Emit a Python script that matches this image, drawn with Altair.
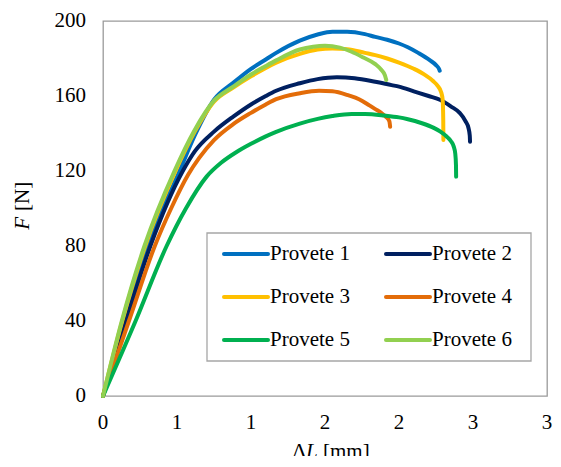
import altair as alt
import pandas as pd

FONT = "Liberation Serif"

series_names = ["Provete 1", "Provete 2", "Provete 3", "Provete 4", "Provete 5", "Provete 6"]
series_colors = ["#0070C0", "#002060", "#FFC000", "#E36C09", "#00B050", "#92D050"]

# Provete 1 (ΔL in mm, F in N)
p1_dl = [0, 0.145, 0.30, 0.517, 0.62, 0.75, 0.88, 1.0, 1.10, 1.17, 1.33, 1.45, 1.55, 1.65,
         1.77, 1.84, 1.92, 2.0, 2.06, 2.13, 2.21, 2.25, 2.27, 2.275]
p1_f = [0, 40, 80, 120, 139, 158, 167, 174.5, 179.5, 183, 189.5, 192.8, 194.3, 194.3,
        193, 191.5, 190, 188, 186, 183, 179, 176.5, 174.5, 173.5]

# Provete 2
p2_dl = [0, 0.155, 0.32, 0.539, 0.62, 0.75, 0.88, 1.0, 1.10, 1.17, 1.33, 1.45, 1.58, 1.70,
         1.84, 1.95, 2.0, 2.10, 2.20, 2.28, 2.35, 2.41, 2.45, 2.47, 2.478, 2.48]
p2_f = [0, 40, 80, 120, 130.5, 141, 149, 155.5, 160, 162.8, 166.8, 169, 170, 169.5,
        167.6, 165.8, 165, 162.5, 160, 157.9, 154.5, 151, 146.5, 142.8, 139, 135.6]

# Provete 3
p3_dl = [0, 0.13, 0.285, 0.49, 0.62, 0.75, 0.88, 1.0, 1.10, 1.17, 1.33, 1.45, 1.55, 1.65,
         1.77, 1.84, 1.92, 2.0, 2.10, 2.17, 2.23, 2.26, 2.285, 2.295, 2.299, 2.30]
p3_f = [0, 40, 80, 120, 141, 157, 164.5, 170.5, 175, 177.8, 182.5, 184.8, 185.4, 185,
        183, 181.8, 180, 177.8, 174.5, 171.5, 168, 165.5, 162, 158, 147, 136.5]

# Provete 4
p4_dl = [0, 0.175, 0.35, 0.46, 0.575, 0.65, 0.75, 0.88, 1.0, 1.10, 1.17, 1.33, 1.46, 1.55, 1.66,
         1.73, 1.80, 1.84, 1.88, 1.91, 1.935, 1.94]
p4_f = [0, 40, 80, 100, 118, 127, 136.5, 145, 151, 155.5, 158.3, 161.5, 162.8, 162.5, 160.3,
        158.3, 155, 153, 151, 149, 146.5, 143.6]

# Provete 5
p5_dl = [0, 0.22, 0.43, 0.56, 0.70, 0.80, 0.90, 1.0, 1.10, 1.17, 1.33, 1.45,
         1.55, 1.68, 1.77, 1.90, 2.0, 2.06, 2.15, 2.235, 2.28, 2.32, 2.35, 2.37, 2.38, 2.385, 2.386]
p5_f = [0, 40, 80, 100, 117, 124.5, 130, 134.5, 138.5, 140.9, 145.3, 147.8,
        149.3, 150.4, 150.4, 149.6, 148.6, 147.6, 145.6, 143, 141, 138.5, 136, 133, 129.4, 123, 117]

# Provete 6
p6_dl = [0, 0.127, 0.28, 0.483, 0.617, 0.75, 0.88, 1.0, 1.10, 1.17, 1.33, 1.42, 1.50, 1.60,
         1.68, 1.76, 1.84, 1.88, 1.905, 1.914]
p6_f = [0, 40, 80, 120, 141.5, 157.5, 165, 171.5, 176, 179, 184.8, 186.3, 186.8, 185.8,
        183.6, 180.5, 177, 174, 171, 168.5]

x_tick_values = [0, 0.5, 1, 1.5, 2, 2.5, 3]
x_tick_labels = ["0", "1", "1", "2", "2", "3", "3"]
y_tick_values = [0, 40, 80, 120, 160, 200]
y_tick_labels = ["0", "40", "80", "120", "160", "200"]

all_dl = [p1_dl, p2_dl, p3_dl, p4_dl, p5_dl, p6_dl]
all_f = [p1_f, p2_f, p3_f, p4_f, p5_f, p6_f]

rows = []
for name, xs, fs in zip(series_names, all_dl, all_f):
    for i, (a, b) in enumerate(zip(xs, fs)):
        rows.append({"serie": name, "dl": a, "f": b, "i": i})
df = pd.DataFrame(rows)

GRID = "#9a9a9a"
XS = alt.Scale(domain=[0, 3], nice=False, zero=False)
YS = alt.Scale(domain=[0, 200], nice=False)
CS = alt.Scale(domain=series_names, range=series_colors)

lines = alt.Chart(df).mark_line(
    strokeWidth=4, interpolate="monotone", strokeCap="round", strokeJoin="round"
).encode(
    x=alt.X("dl:Q", scale=XS, axis=alt.Axis(values=x_tick_values, labels=False, title=None)),
    y=alt.Y("f:Q", scale=YS, axis=alt.Axis(values=y_tick_values, labels=False, title=None)),
    color=alt.Color("serie:N", scale=CS, legend=None),
    order="i:Q",
)

x_labels = alt.Chart(pd.DataFrame({"v": x_tick_values, "l": x_tick_labels})).mark_text(
    font=FONT, fontSize=21, color="black", baseline="middle", align="center"
).encode(x=alt.X("v:Q", scale=XS, axis=None), y=alt.value(402), text="l:N")

y_labels = alt.Chart(pd.DataFrame({"v": y_tick_values, "l": y_tick_labels})).mark_text(
    font=FONT, fontSize=21, color="black", baseline="middle", align="right"
).encode(x=alt.value(-17), y=alt.Y("v:Q", scale=YS, axis=None), text="l:N")

def txt(s, x, y, align, italic=False, angle=0):
    kw = dict(font=FONT, fontSize=21, color="black", align=align, baseline="middle")
    if italic:
        kw["fontStyle"] = "italic"
    if angle:
        kw["angle"] = angle
    return alt.Chart(pd.DataFrame({"t": [s]})).mark_text(**kw).encode(
        x=alt.value(x), y=alt.value(y), text="t:N")

titles = [
    txt("F", -80, 196, "right", italic=True, angle=270),
    txt("[N]", -80, 190, "left", angle=270),
    txt("Δ", 203, 431, "right"),
    txt("L", 203, 431, "left", italic=True),
    txt("[mm]", 220, 431, "left"),
]

# legend (box, line samples, labels), laid out two per row
legend_df = pd.DataFrame({"serie": series_names, "k": list(range(len(series_names)))})
legend_base = alt.Chart(legend_df).transform_calculate(
    col="datum.k % 2", row="floor(datum.k / 2)"
).transform_calculate(
    sx="121 + datum.col * 162", sx2="165 + datum.col * 162",
    tx="167 + datum.col * 162", sy="233 + datum.row * 43"
)
legend_box = alt.Chart(pd.DataFrame({"t": [""]})).mark_rect(
    fill="white", stroke="#a6a6a6", strokeWidth=1.3
).encode(x=alt.value(104), x2=alt.value(428), y=alt.value(212), y2=alt.value(340))
legend_lines = legend_base.mark_rule(strokeWidth=4, strokeCap="round").encode(
    x=alt.X("sx:Q", scale=None), x2="sx2:Q", y=alt.Y("sy:Q", scale=None),
    color=alt.Color("serie:N", scale=CS, legend=None),
)
legend_text = legend_base.mark_text(
    font=FONT, fontSize=21, color="black", align="left", baseline="middle"
).encode(x=alt.X("tx:Q", scale=None), y=alt.Y("sy:Q", scale=None), text="serie:N")

chart = alt.layer(
    lines, x_labels, y_labels, legend_box, legend_lines, legend_text, *titles
).properties(
    width=444, height=375,
    autosize=alt.AutoSizeParams(type="none"),
    padding={"left": 95, "top": 13, "right": 6, "bottom": 60},
).configure_axis(
    gridColor=GRID, gridWidth=1.3, domainColor=GRID, domainWidth=1.3,
    tickColor=GRID, tickWidth=1.3, tickSize=6,
).configure_view(stroke=GRID, strokeWidth=1.3)

chart.save("out.html", embed_options={"renderer": "svg", "actions": False})
